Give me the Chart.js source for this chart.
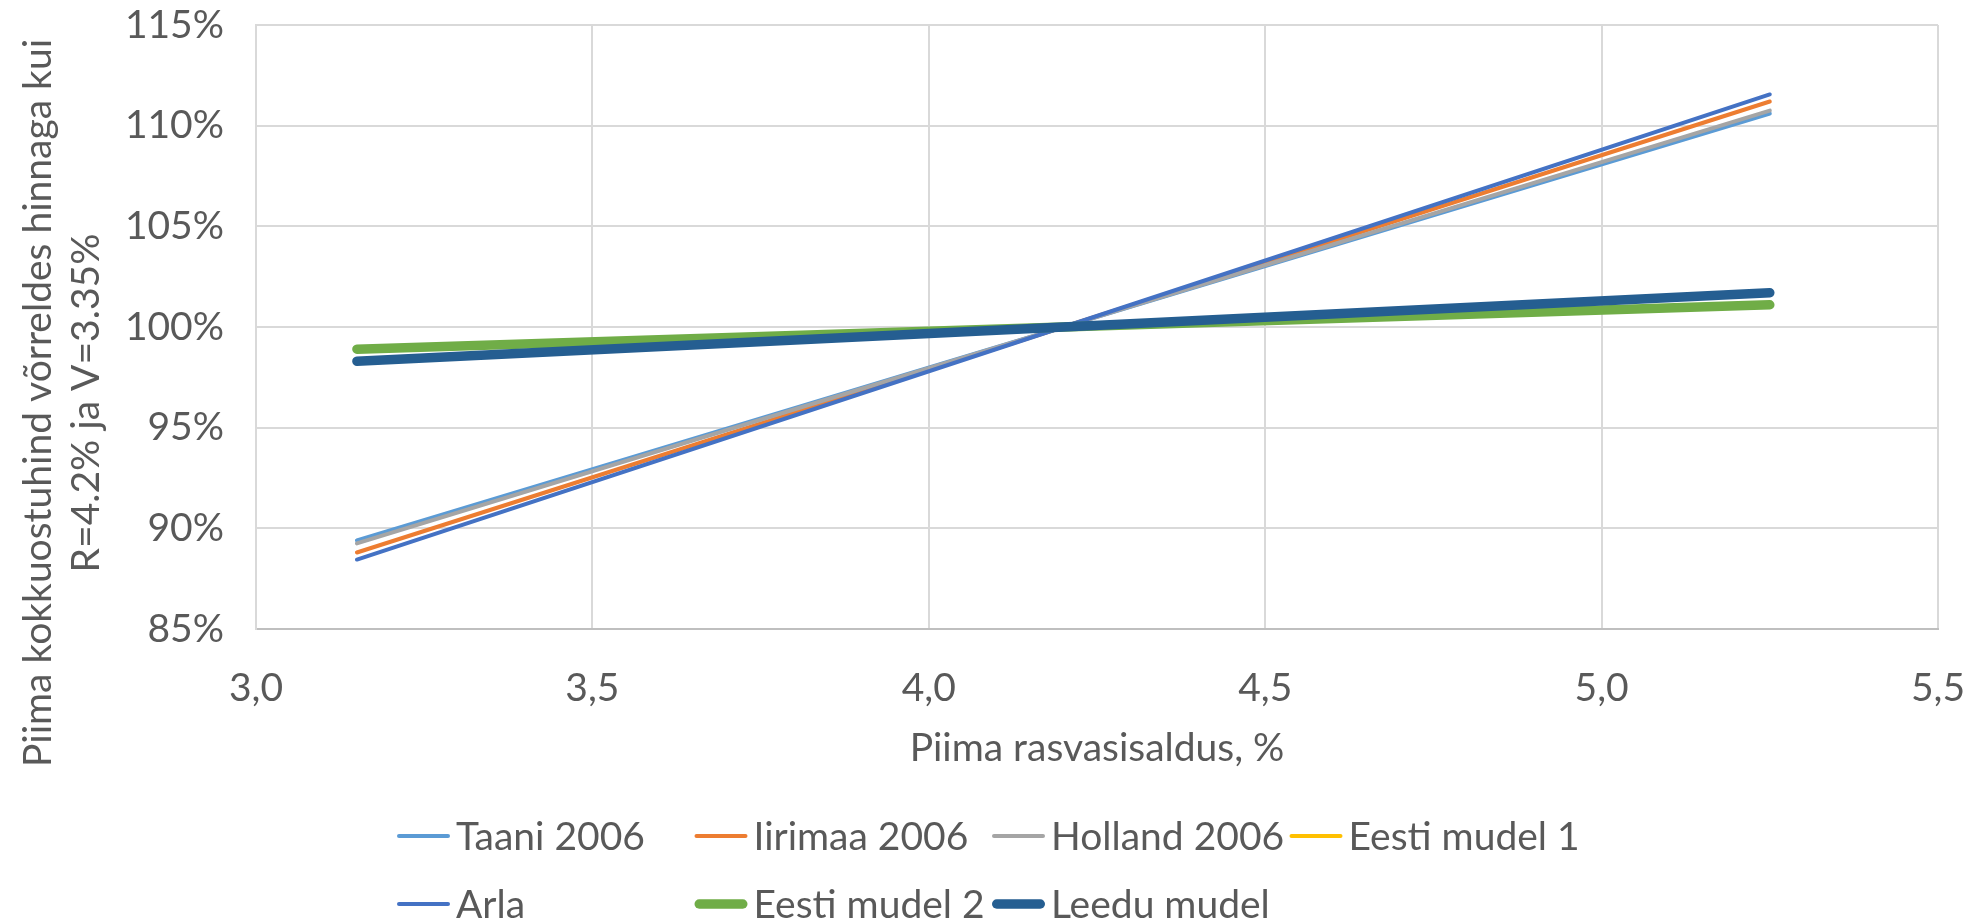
<!DOCTYPE html>
<html>
<head>
<meta charset="utf-8">
<script src="https://cdn.jsdelivr.net/npm/chart.js@4.4.1/dist/chart.umd.min.js"></script>
<style>
  html, body { margin: 0; padding: 0; background: #ffffff; }
  #wrap { width: 1980px; height: 920px; position: relative; }
</style>
</head>
<body>
<div id="wrap"><canvas id="c" width="1980" height="920"></canvas></div>
<script>
// Milk fat content (%) at which each pricing model is evaluated
const fatLevels = [3.15, 4.2, 5.25];

// Purchase price relative to the price at R=4.2% and V=3.35% (%)
const taani2006 = [89.4, 100, 110.6];
const iirimaa2006 = [88.8, 100, 111.2];
const holland2006 = [89.25, 100, 110.75];
const eestiMudel1 = [98.9, 100, 101.1];
const arla = [88.45, 100, 111.55];
const eestiMudel2 = [98.9, 100, 101.1];
const leeduMudel = [98.3, 100, 101.7];

const seriesNames = ['Taani 2006', 'Iirimaa 2006', 'Holland 2006', 'Eesti mudel 1', 'Arla', 'Eesti mudel 2', 'Leedu mudel'];
const seriesValues = [taani2006, iirimaa2006, holland2006, eestiMudel1, arla, eestiMudel2, leeduMudel];
const seriesColors = ['#5B9BD5', '#ED7D31', '#A5A5A5', '#FFC000', '#4472C4', '#70AD47', '#255E91'];
const seriesWidths = [4, 4, 4, 4, 4, 9.5, 9.5];

const yTicks = [85, 90, 95, 100, 105, 110, 115];
const xTicks = [3.0, 3.5, 4.0, 4.5, 5.0, 5.5];

const yTitleLines = ['Piima kokkuostuhind võrreldes hinnaga kui', 'R=4.2% ja V=3.35%'];
const xTitle = 'Piima rasvasisaldus, %';

const FONT = 'Lato, "Open Sans", sans-serif';
const TEXT = '#595959';
const FS = 39;

const datasets = seriesNames.map((name, i) => ({
  label: name,
  data: fatLevels.map((x, k) => ({ x: x, y: seriesValues[i][k] })),
  borderColor: seriesColors[i],
  backgroundColor: seriesColors[i],
  borderWidth: seriesWidths[i],
  borderCapStyle: 'round',
  borderJoinStyle: 'round',
  showLine: true,
  pointRadius: 0,
  pointHoverRadius: 0,
  order: seriesNames.length - i   // later series sit on top
}));

// Titles and the two-row legend drawn on the canvas
const decorations = {
  id: 'decorations',
  afterDraw(chart) {
    const ctx = chart.ctx;
    const area = chart.chartArea;
    ctx.save();
    ctx.fillStyle = TEXT;
    ctx.font = FS + 'px ' + FONT;

    // vertical axis title, two rotated lines
    const yCenter = 403;
    const baselines = [51, 99];
    yTitleLines.forEach((line, i) => {
      ctx.save();
      ctx.translate(baselines[i], yCenter);
      ctx.rotate(-Math.PI / 2);
      ctx.textAlign = 'center';
      ctx.textBaseline = 'alphabetic';
      ctx.fillText(line, 0, 0);
      ctx.restore();
    });

    // horizontal axis title
    ctx.textAlign = 'center';
    ctx.textBaseline = 'middle';
    ctx.fillText(xTitle, (area.left + area.right) / 2, 748);

    // legend
    const colX0 = 397, colStep = 297.5, rowY0 = 836, rowStep = 68, markLen = 53;
    ctx.textAlign = 'left';
    chart.data.datasets.forEach((ds, i) => {
      const col = i % 4, row = Math.floor(i / 4);
      const x = colX0 + col * colStep;
      const y = rowY0 + row * rowStep;
      ctx.beginPath();
      ctx.strokeStyle = ds.borderColor;
      ctx.lineWidth = ds.borderWidth;
      ctx.lineCap = 'round';
      const inset = ds.borderWidth / 2;
      ctx.moveTo(x + inset, y);
      ctx.lineTo(x + markLen - inset, y);
      ctx.stroke();
      ctx.fillStyle = TEXT;
      ctx.fillText(ds.label, x + markLen + 6, y + 1);
    });
    ctx.restore();
  }
};

new Chart(document.getElementById('c'), {
  type: 'scatter',
  data: { datasets: datasets },
  options: {
    responsive: false,
    animation: false,
    devicePixelRatio: 1,
    layout: { padding: { left: 0, right: 42, top: 25, bottom: 0 } },
    plugins: {
      legend: { display: false },
      tooltip: { enabled: false }
    },
    scales: {
      x: {
        type: 'linear',
        min: xTicks[0],
        max: xTicks[xTicks.length - 1],
        afterBuildTicks(scale) { scale.ticks = xTicks.map(v => ({ value: v })); },
        afterFit(scale) {
          scale.height = 291;
          scale.paddingLeft = 0;
          scale.paddingRight = 0;
        },
        ticks: {
          padding: 36,
          color: TEXT,
          font: { family: FONT, size: FS },
          maxRotation: 0,
          callback: v => Number(v).toFixed(1).replace('.', ',')
        },
        grid: { color: '#D9D9D9', lineWidth: 2, drawTicks: false },
        border: { color: '#BFBFBF', width: 2 }
      },
      y: {
        type: 'linear',
        min: yTicks[0],
        max: yTicks[yTicks.length - 1],
        afterBuildTicks(scale) { scale.ticks = yTicks.map(v => ({ value: v })); },
        afterFit(scale) {
          scale.width = 256;
          scale.paddingTop = 0;
          scale.paddingBottom = 0;
        },
        ticks: {
          padding: 32,
          color: TEXT,
          font: { family: FONT, size: FS },
          callback: v => v + '%'
        },
        grid: { color: '#D9D9D9', lineWidth: 2, drawTicks: false },
        border: { color: '#D9D9D9', width: 2 }
      }
    }
  },
  plugins: [decorations]
});
</script>
</body>
</html>
